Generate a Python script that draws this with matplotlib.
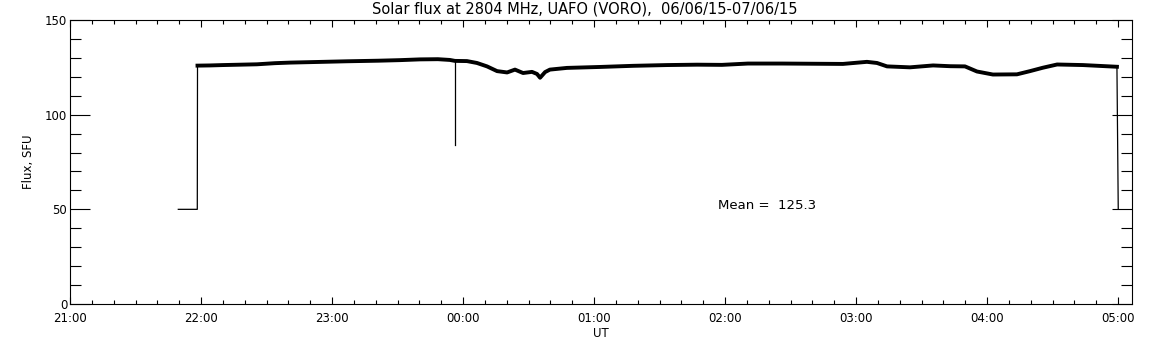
import matplotlib
matplotlib.use("Agg")
import numpy as np
from matplotlib import pyplot as plt
from matplotlib.ticker import MultipleLocator, FixedLocator

# time in minutes after 21:00 UT, flux in SFU
t_trace = [58.4, 64.1, 70.1, 77.9, 85.6, 93.9, 100.8, 115.9, 126.9, 141.1,
           151.1, 160.3, 168.5, 174.0, 176.3, 181.8, 186.4, 191.0, 195.6, 200.2,
           203.8, 207.5, 211.6, 213.9, 215.3, 217.6, 219.8, 227.6, 242.7, 257.9,
           273.4, 287.2, 298.6, 310.5, 326.1, 339.8, 354.0, 365.0, 369.6, 374.2,
           384.7, 395.3, 403.1, 409.9, 415.4, 422.7, 433.7, 439.7, 445.6, 452.1,
           463.9, 479.5]
flux_trace = [125.9, 126.0, 126.2, 126.4, 126.6, 127.2, 127.5, 127.9, 128.2, 128.5,
              128.8, 129.2, 129.3, 128.9, 128.4, 128.3, 127.3, 125.5, 123.0, 122.3,
              123.8, 122.0, 122.6, 121.5, 119.5, 122.5, 123.8, 124.7, 125.2, 125.8,
              126.2, 126.4, 126.3, 127.0, 127.0, 126.9, 126.8, 127.9, 127.3, 125.5,
              125.0, 126.0, 125.6, 125.5, 122.8, 121.2, 121.3, 123.0, 124.8, 126.5,
              126.2, 125.3]

# start step, dropout spike and end drop
t_start = [49.6, 58.3, 58.4]
flux_start = [50, 50, 125.9]
t_spike = [176.3, 176.3]
flux_spike = [128.4, 83.8]
t_end = [479.5, 480.1]
flux_end = [125.3, 50]

mean_flux = 125.3
hour_labels = ["21:00", "22:00", "23:00", "00:00", "01:00", "02:00", "03:00", "04:00", "05:00"]

fig = plt.figure(figsize=(11.52, 3.45), dpi=100)
ax = fig.add_axes([70 / 1152, 1 - 304 / 345, 1062 / 1152, 284 / 345])

ax.plot(t_trace, flux_trace, color="black", linewidth=2.8, solid_joinstyle="round")
ax.plot(t_start, flux_start, color="black", linewidth=0.9)
ax.plot(t_spike, flux_spike, color="black", linewidth=0.9)
ax.plot(t_end, flux_end, color="black", linewidth=0.9)

ax.set_xlim(0, 486.4)
ax.set_ylim(0, 150)

ax.xaxis.set_major_locator(FixedLocator([60 * i for i in range(len(hour_labels))]))
ax.set_xticklabels(hour_labels)
ax.xaxis.set_minor_locator(MultipleLocator(10))
ax.yaxis.set_major_locator(MultipleLocator(50))
ax.yaxis.set_minor_locator(MultipleLocator(10))

ax.tick_params(axis="both", which="both", direction="in", top=True, right=True,
               color="black", labelsize=8.5, width=0.8)
ax.tick_params(axis="x", which="major", length=5, pad=6)
ax.tick_params(axis="x", which="minor", length=3)
ax.tick_params(axis="y", which="major", length=14.5, pad=2)
ax.tick_params(axis="y", which="minor", length=8)

for s in ax.spines.values():
    s.set_linewidth(0.8)

ax.set_xlabel("UT", fontsize=8.5, labelpad=1)
ax.set_ylabel("Flux, SFU", fontsize=8.5, labelpad=7)

ax.text(296.8, 51.8, f"Mean =  {mean_flux}", fontsize=9.5, ha="left", va="center")
fig.text(585 / 1152, 1 - 9 / 345, "Solar flux at 2804 MHz, UAFO (VORO),  06/06/15-07/06/15",
         fontsize=10.5, ha="center", va="center")

fig.savefig("out.png", dpi=100, facecolor="white")
